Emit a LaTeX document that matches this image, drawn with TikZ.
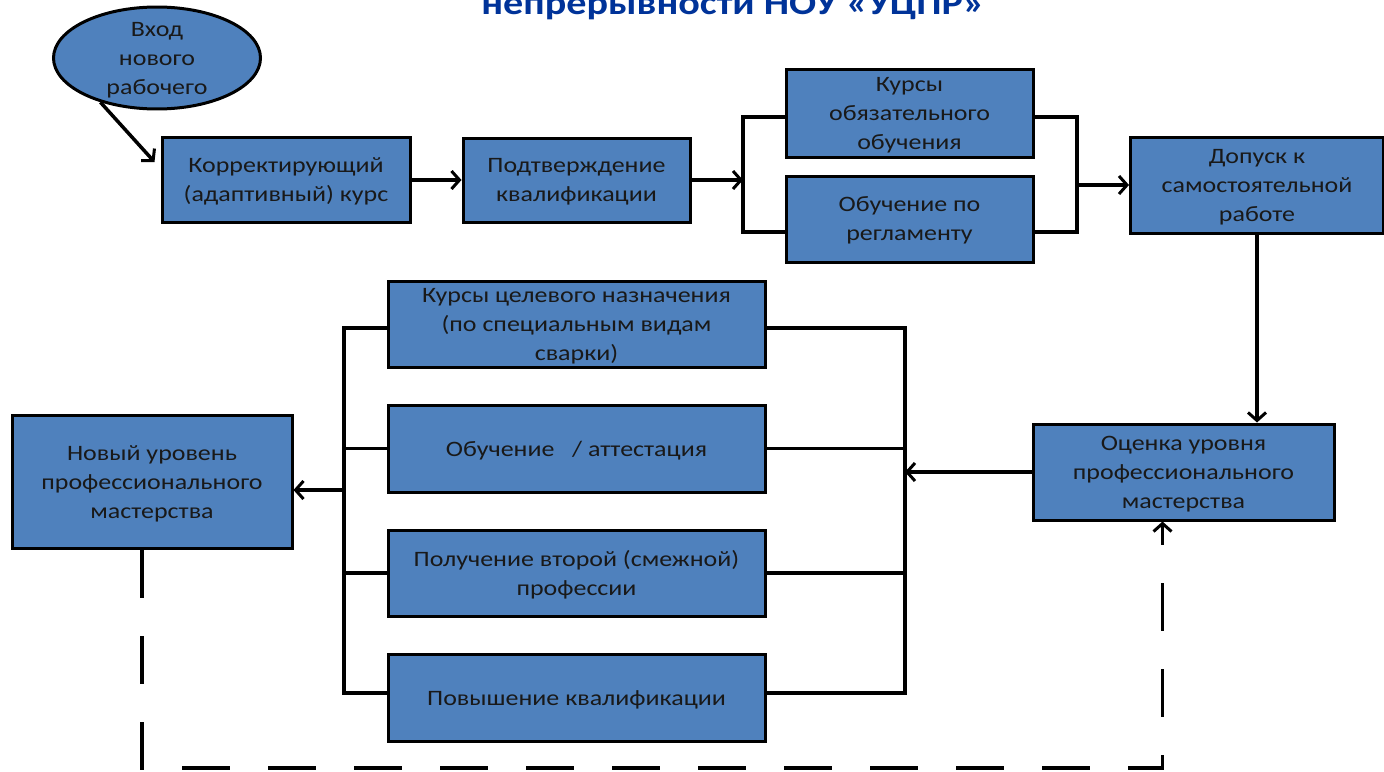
\documentclass[tikz,border=0pt]{standalone}
\usepackage{fontspec}
\setmainfont{Carlito}[FakeStretch=1.18]
\usetikzlibrary{shapes.geometric,arrows.meta}
\definecolor{boxblue}{RGB}{79,129,189}
\definecolor{titleblue}{RGB}{0,51,153}

\begin{document}
\begin{tikzpicture}[x=1pt, y=-1pt,
        every node/.style={align=center, inner sep=0pt, text=black!90,
            font=\fontsize{22}{29}\selectfont},
        blk/.style={draw, line width=3pt, fill=boxblue, text depth=-3pt},
        oval/.style={ellipse, draw, line width=3pt, fill=boxblue, text depth=-7pt},
        line/.style={line width=3.5pt},
        arr/.style={line, -{Straight Barb[length=8pt,width=18pt,line width=3pt]}},
        fbline/.style={arr, dash pattern=on 48pt off 38pt},
        title/.style={anchor=base, text=titleblue, font=\fontsize{34}{40}\selectfont\bfseries}]

    \useasboundingbox (0,0) rectangle (1384,771);

    \node[title] (ttl) at (733,14) {непрерывности НОУ «УЦПР»};

    \node[oval, minimum width=207, minimum height=88] (vhod) at (157,58) {Вход\\нового\\рабочего};
    \node[blk, minimum width=248, minimum height=85] (korr) at (286,180) {Корректирующий\\(адаптивный) курс};
    \node[blk, minimum width=227, minimum height=84] (podtv) at (576.5,180) {Подтверждение\\квалификации};
    \node[blk, minimum width=247, minimum height=88] (kursy) at (909.5,113) {Курсы\\обязательного\\обучения};
    \node[blk, minimum width=247, minimum height=86] (reglam) at (909.5,219) {Обучение по\\регламенту};
    \node[blk, minimum width=253, minimum height=96] (dopusk) at (1257,185) {Допуск к\\самостоятельной\\работе};
    \node[blk, minimum width=301, minimum height=96] (ocenka) at (1183.5,472) {Оценка уровня\\профессионального\\мастерства};
    \node[blk, minimum width=377, minimum height=86] (celev) at (576.5,324) {Курсы целевого  назначения\\(по специальным  видам\\сварки)};
    \node[blk, minimum width=377, minimum height=87] (attest) at (576.5,448.5) {Обучение~~ / аттестация};
    \node[blk, minimum width=377, minimum height=86] (vtoraya) at (576.5,573) {Получение второй (смежной)\\профессии};
    \node[blk, minimum width=377, minimum height=87] (povysh) at (576.5,698) {Повышение квалификации};
    \node[blk, minimum width=280, minimum height=133] (novy) at (152,482) {Новый уровень\\профессионального\\мастерства};

    \coordinate (spl) at (743,185);
    \coordinate (spr) at (1077,185);
    \coordinate (sr) at (905,472);
    \coordinate (sl) at (344,490);
    \coordinate (fb) at (142,768);

    \draw[arr] (vhod.218) -- ([xshift=-6pt,yshift=18pt]korr.west);
    \draw[arr] (korr) -- (podtv);
    \draw[arr] (podtv.east) -- (podtv.east -| spl);
    \draw[line] ([yshift=-4pt]kursy.west) -| (spl) |- ([yshift=-13pt]reglam.west);
    \draw[line] ([yshift=-4pt]kursy.east) -| (spr) |- ([yshift=-13pt]reglam.east);
    \draw[arr] (spr) -- (dopusk);
    \draw[arr] (dopusk.south) -- (dopusk.south |- ocenka.north);
    \draw[arr] (ocenka.west) -- (sr);
    \draw[line] ([yshift=-4pt]celev.east) -| (sr) |- ([yshift=5pt]povysh.east);
    \draw[line] ([yshift=-4pt]celev.west) -| (sl) |- ([yshift=5pt]povysh.west);
    \foreach \n in {attest,vtoraya} {
        \draw[line] (\n.east) -- (\n.east -| sr);
        \draw[line] (\n.west) -- (\n.west -| sl);
    }
    \draw[arr] (sl) -- (sl -| novy.east);
    \draw[fbline] ([xshift=-10pt]novy.south) |- (fb) -| ([xshift=-21pt]ocenka.south);
\end{tikzpicture}
\end{document}
